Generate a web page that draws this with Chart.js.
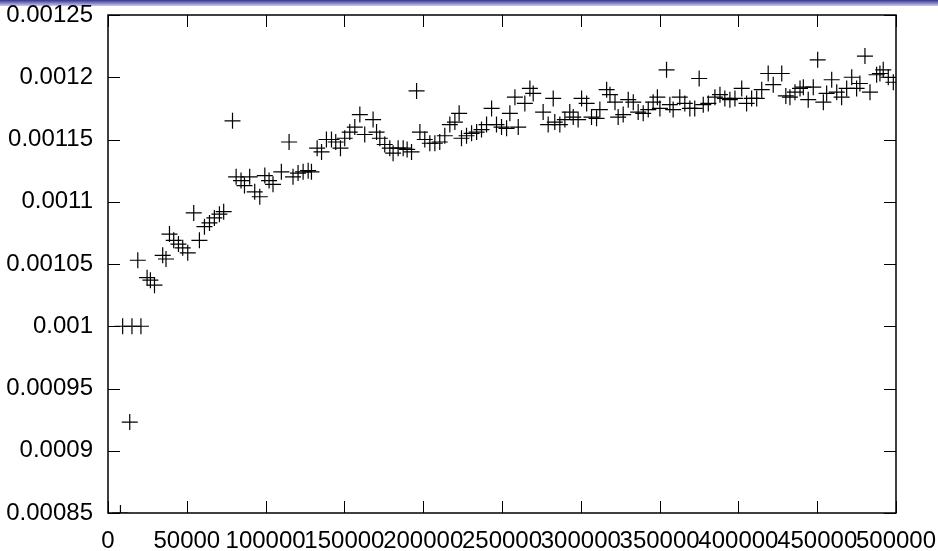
<!DOCTYPE html>
<html>
<head>
<meta charset="utf-8">
<script src="https://cdn.jsdelivr.net/npm/chart.js@4"></script>
<style>
   html, body { margin: 0; padding: 0; background: #fff; }
   canvas { display: block; }
</style>
</head>
<body>
<canvas id="myChart" width="938" height="551"></canvas>
<script>
const xTicks = [0, 50000, 100000, 150000, 200000, 250000, 300000, 350000, 400000, 450000, 500000];
const xTickLabels = ["0", "50000", "100000", "150000", "200000", "250000", "300000", "350000", "400000", "450000", "500000"];
const yTicks = [0.00085, 0.0009, 0.00095, 0.001, 0.00105, 0.0011, 0.00115, 0.0012, 0.00125];
const yTickLabels = ["0.00085", "0.0009", "0.00095", "0.001", "0.00105", "0.0011", "0.00115", "0.0012", "0.00125"];

// sample position (x) and measured value (y)
const xs = [
   7900, 9300, 13800, 15200, 18900, 20900, 24800, 26900, 29500, 34700,
   36800, 39000, 41700, 44700, 47400, 50600, 54400, 58000, 61200, 64400,
   67500, 70700, 73400, 79000, 81300, 84400, 86600, 89900, 93100, 96300,
   99500, 102200, 104700, 110000, 114900, 117400, 120600, 123800, 127000, 129100,
   132700, 135500, 138600, 141800, 144500, 147500, 150200, 153400, 156600, 159800,
   162900, 168200, 170400, 172500, 175600, 178800, 180900, 184100, 187300, 189800,
   192600, 195800, 197900, 201000, 204200, 207400, 210500, 213700, 216900, 220100,
   222800, 224300, 227500, 230700, 233900, 237000, 240200, 243400, 246500, 249700,
   252900, 255000, 258200, 260300, 264500, 267700, 269800, 276100, 279300, 282500,
   283500, 286700, 289900, 293000, 295200, 298300, 300500, 303700, 306800, 310000,
   312100, 316400, 318500, 321700, 323700, 326900, 330100, 333300, 336400, 339600,
   342800, 345900, 348600, 350200, 354400, 356500, 358600, 362800, 366000, 369200,
   372300, 375100, 377700, 380900, 385100, 388300, 391400, 394600, 397800, 402100,
   405200, 408400, 411600, 414800, 418900, 422100, 427500, 430100, 432700, 435900,
   439100, 441200, 444300, 447500, 450300, 453900, 456000, 459200, 462400, 465500,
   468700, 471900, 475000, 477100, 480300, 483500, 487700, 489800, 491900, 495100,
   498300
];
const ys = [
   0.00085, 0.001, 0.000923, 0.001, 0.001053, 0.001, 0.001039, 0.001037, 0.001033, 0.001057,
   0.001054, 0.001074, 0.001069, 0.001066, 0.001063, 0.001059, 0.001091, 0.001069, 0.00108, 0.001083,
   0.001087, 0.00109, 0.001092, 0.001165, 0.00112, 0.001117, 0.001113, 0.00112, 0.001108, 0.001104,
   0.001121, 0.001117, 0.001114, 0.001124, 0.001148, 0.00112, 0.001123, 0.001124, 0.001125, 0.001124,
   0.001143, 0.00114, 0.00115, 0.00115, 0.001148, 0.001143, 0.001151, 0.001156, 0.00116, 0.00117,
   0.001154, 0.001166, 0.001156, 0.001151, 0.001146, 0.001143, 0.001139, 0.001143, 0.001143, 0.001142,
   0.00114, 0.001189, 0.001156, 0.00115, 0.001147, 0.001147, 0.001148, 0.001153, 0.001162, 0.001164,
   0.001171, 0.001151, 0.001153, 0.001155, 0.001156, 0.001158, 0.001162, 0.001175, 0.001162, 0.00116,
   0.001159, 0.001171, 0.001184, 0.00116, 0.001179, 0.001191, 0.001187, 0.001172, 0.001162, 0.001183,
   0.001164, 0.001162, 0.001166, 0.001172, 0.001168, 0.001166, 0.001183, 0.001179, 0.001168, 0.001167,
   0.001174, 0.00119, 0.001186, 0.00118, 0.001168, 0.00117, 0.001182, 0.00118, 0.001172, 0.001171,
   0.001174, 0.00118, 0.001184, 0.001175, 0.001206, 0.001178, 0.001174, 0.001184, 0.001179, 0.001175,
   0.001175, 0.001199, 0.001178, 0.001179, 0.001184, 0.001186, 0.001183, 0.001182, 0.001183, 0.001191,
   0.001179, 0.001183, 0.001183, 0.00119, 0.001203, 0.001194, 0.001203, 0.001185, 0.001184, 0.001188,
   0.001191, 0.001192, 0.001182, 0.001192, 0.001214, 0.00118, 0.001187, 0.001198, 0.001188, 0.001184,
   0.001191, 0.0012, 0.001191, 0.001195, 0.001217, 0.001188, 0.001202, 0.001203, 0.001206, 0.0012,
   0.001196
];

const tickFont = { family: "Liberation Sans", size: 24 };

// frame, inward ticks and the blue band on top
const framePlugin = {
   id: "frame",
   beforeDraw(chart) {
      const ctx = chart.ctx;
      const g = ctx.createLinearGradient(0, 0, 0, 6);
      g.addColorStop(0, "rgb(52, 52, 140)");
      g.addColorStop(1, "rgb(205, 205, 235)");
      ctx.save();
      ctx.fillStyle = g;
      ctx.fillRect(0, 0, chart.width, 6);
      ctx.restore();
   },
   afterDraw(chart) {
      const { ctx, chartArea: a, scales } = chart;
      ctx.save();
      ctx.strokeStyle = "#000";
      ctx.lineWidth = 1;
      ctx.beginPath();
      scales.x.ticks.forEach((t) => {
         const px = Math.round(scales.x.getPixelForValue(t.value)) + 0.5;
         ctx.moveTo(px, a.bottom); ctx.lineTo(px, a.bottom - 12);
         ctx.moveTo(px, a.top); ctx.lineTo(px, a.top + 12);
      });
      scales.y.ticks.forEach((t) => {
         const py = Math.round(scales.y.getPixelForValue(t.value)) + 0.5;
         ctx.moveTo(a.left, py); ctx.lineTo(a.left + 12, py);
         ctx.moveTo(a.right, py); ctx.lineTo(a.right - 12, py);
      });
      ctx.stroke();
      ctx.lineWidth = 1.5;
      ctx.strokeRect(a.left, a.top, a.right - a.left, a.bottom - a.top);
      ctx.restore();
   },
};

const ctx = document.getElementById("myChart");
const myChart = new Chart(ctx, {
   type: "scatter",
   data: {
      datasets: [
         {
            data: xs.map((x, i) => ({ x: x, y: ys[i] })),
            pointStyle: "cross",
            radius: 8,
            borderColor: "#000",
            backgroundColor: "#000",
            borderWidth: 1.2,
         },
      ],
   },
   options: {
      responsive: false,
      animation: false,
      devicePixelRatio: 1,
      layout: { padding: 0 },
      plugins: {
         legend: { display: false },
         tooltip: { enabled: false },
      },
      scales: {
         x: {
            type: "linear",
            min: 0,
            max: 500000,
            afterBuildTicks: (s) => { s.ticks = xTicks.map((v) => ({ value: v })); },
            afterFit: (s) => {
               s.height = 38;
               s.paddingLeft = 0;
               s.paddingRight = 42;
            },
            ticks: {
               autoSkip: false,
               maxRotation: 0,
               minRotation: 0,
               padding: 14,
               color: "#000",
               font: tickFont,
               callback: (v, i) => xTickLabels[i],
            },
            grid: { display: false, drawTicks: false },
            border: { display: false },
         },
         y: {
            min: 0.00085,
            max: 0.00125,
            afterBuildTicks: (s) => { s.ticks = yTicks.map((v) => ({ value: v })); },
            afterFit: (s) => {
               s.width = 108;
               s.paddingTop = 15;
               s.paddingBottom = 0;
            },
            ticks: {
               padding: 15,
               color: "#000",
               font: tickFont,
               callback: (v, i) => yTickLabels[i],
            },
            grid: { display: false, drawTicks: false },
            border: { display: false },
         },
      },
   },
   plugins: [framePlugin],
});
</script>
</body>
</html>
